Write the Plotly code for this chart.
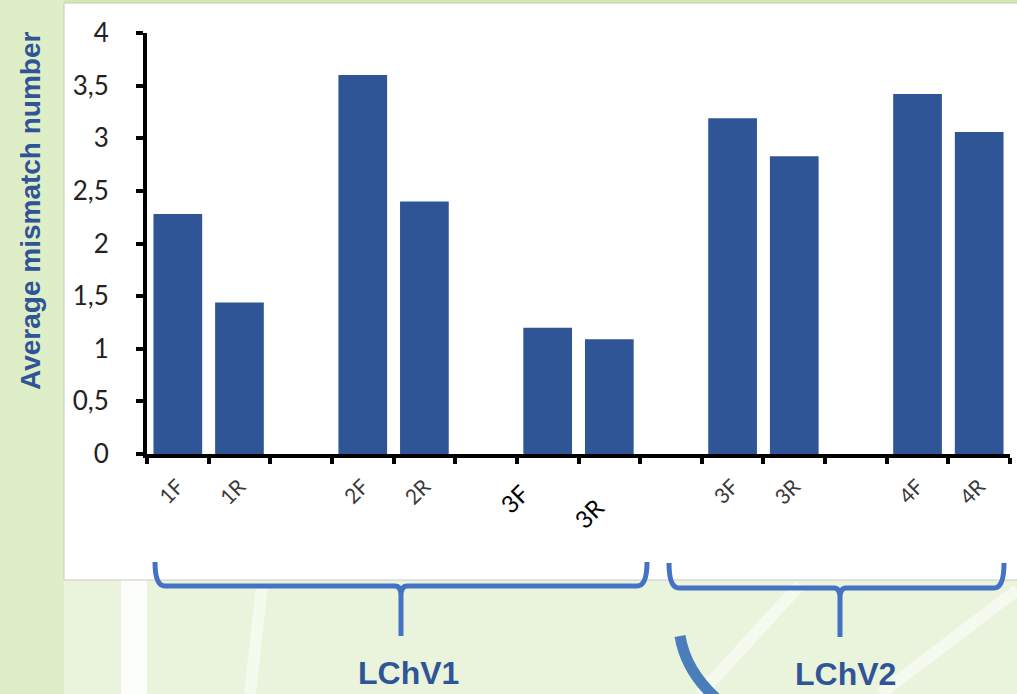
import plotly.graph_objects as go

# ---- data ----
slot_keys = ["1F", "1R", "g1", "2F", "2R", "g2", "3F_a", "3R_a", "g3",
             "3F_b", "3R_b", "g4", "4F", "4R"]
slot_labels = ["1F", "1R", "", "2F", "2R", "", "", "", "",
               "3F", "3R", "", "4F", "4R"]
values = [2.28, 1.44, None, 3.60, 2.40, None, 1.20, 1.09, None,
          3.19, 2.83, None, 3.42, 3.06]
big_label_keys = ["3F_a", "3R_a"]
big_label_text = ["3F", "3R"]
y_ticks = [0, 0.5, 1, 1.5, 2, 2.5, 3, 3.5, 4]
group_names = ["LChV1", "LChV2"]

W, H = 1017, 694
L, R, T, B = 147, 7, 33, 240
PW, PH = W - L - R, H - T - B


def px(x):
    return (x - L) / PW


def py(y):
    return (H - B - y) / PH


BAR = "#2f5597"
BRACE = "#4472c4"

fig = go.Figure()
fig.add_trace(go.Bar(x=slot_keys, y=values, marker_color=BAR,
                     marker_line_width=0, showlegend=False, hoverinfo="skip"))

shapes = []
# background tints
shapes.append(dict(type="rect", xref="paper", yref="paper", layer="below",
                   x0=px(0), x1=px(64), y0=py(H), y1=py(0),
                   fillcolor="#deeec6", line_width=0))
shapes.append(dict(type="rect", xref="paper", yref="paper", layer="below",
                   x0=px(64), x1=px(W), y0=py(3), y1=py(0),
                   fillcolor="#d4e9ad", line_width=0))
# faint white stripes in background
shapes.append(dict(type="rect", xref="paper", yref="paper", layer="below",
                   x0=px(121), x1=px(147), y0=py(H), y1=py(580),
                   fillcolor="rgba(255,255,255,0.85)", line_width=0))
for (xa, ya, xb, yb) in [(700, 694, 800, 585), (880, 694, 1017, 590),
                         (250, 694, 262, 585)]:
    shapes.append(dict(type="line", xref="paper", yref="paper", layer="below",
                       x0=px(xa), y0=py(ya), x1=px(xb), y1=py(yb),
                       line=dict(color="rgba(255,255,255,0.5)", width=12)))
# white panel
shapes.append(dict(type="rect", xref="paper", yref="paper", layer="below",
                   x0=px(64), x1=px(W + 5), y0=py(580), y1=py(3),
                   fillcolor="white", line=dict(color="#c8c8c8", width=1)))


def brace(x0, x1, xm, ytop, yh, ybot):
    pts = (f"M {px(x0)},{py(ytop)} "
           f"Q {px(x0)},{py(yh)} {px(x0 + 10)},{py(yh)} "
           f"L {px(xm - 6)},{py(yh)} "
           f"Q {px(xm)},{py(yh)} {px(xm)},{py(yh + 10)} "
           f"L {px(xm)},{py(ybot)} "
           f"M {px(xm)},{py(yh + 10)} "
           f"Q {px(xm)},{py(yh)} {px(xm + 6)},{py(yh)} "
           f"L {px(x1 - 10)},{py(yh)} "
           f"Q {px(x1)},{py(yh)} {px(x1)},{py(ytop)}")
    return dict(type="path", xref="paper", yref="paper", path=pts,
                line=dict(color=BRACE, width=5))


shapes.append(brace(155, 647, 401, 562, 586, 636))
shapes.append(brace(669, 1004, 840, 563, 588, 637))
# blue arc
shapes.append(dict(type="path", xref="paper", yref="paper",
                   path=f"M {px(680)},{py(636)} Q {px(686)},{py(672)} {px(718)},{py(700)}",
                   line=dict(color="#4a7ebb", width=11)))

annotations = []
annotations.append(dict(xref="paper", yref="paper", x=px(31), y=py(211),
                        text="<b>Average mismatch number</b>", textangle=-90,
                        showarrow=False, xanchor="center", yanchor="middle",
                        font=dict(family="Liberation Sans", size=28, color="#2f5597")))
for k, t, dy, xs in zip(big_label_keys, big_label_text, [499, 513], [-33, -21]):
    annotations.append(dict(xref="x", yref="paper", x=k, y=py(dy),
                            text=t, textangle=-45, showarrow=False,
                            xanchor="center", yanchor="middle", xshift=xs,
                            font=dict(family="Lato", size=24, color="black")))
for name, cx, cy in zip(group_names, [408, 845], [673, 674]):
    annotations.append(dict(xref="paper", yref="paper", x=px(cx), y=py(cy),
                            text=f"<b>{name}</b>", showarrow=False,
                            xanchor="center", yanchor="middle",
                            font=dict(family="Liberation Sans", size=32, color="#2f5597")))

fig.update_layout(
    width=W, height=H, autosize=False,
    margin=dict(l=L, r=R, t=T, b=B),
    paper_bgcolor="#eaf4dc", plot_bgcolor="white",
    bargap=0.21, separators=", ",
    shapes=shapes, annotations=annotations,
    xaxis=dict(type="category", categoryorder="array", categoryarray=slot_keys,
               tickmode="array", tickvals=slot_keys, ticktext=slot_labels,
               tickson="boundaries", ticks="outside", ticklen=6, tickwidth=4,
               tickcolor="black", showline=True, linecolor="black", linewidth=4,
               tickangle=-45, showgrid=False, zeroline=False,
               ticklabelstandoff=8,
               tickfont=dict(family="Lato", size=21, color="#3a3a3a")),
    yaxis=dict(range=[0, 4], tickmode="array", tickvals=y_ticks,
               ticks="outside", ticklen=7, tickwidth=4, tickcolor="black",
               showline=True, linecolor="black", linewidth=4,
               showgrid=False, zeroline=False, ticklabelstandoff=22,
               tickfont=dict(family="Lato", size=26, color="#222222")),
)

fig.write_html("out.html", config={"displayModeBar": False},
               post_script="document.body.style.margin='0';document.body.style.overflow='hidden';")
